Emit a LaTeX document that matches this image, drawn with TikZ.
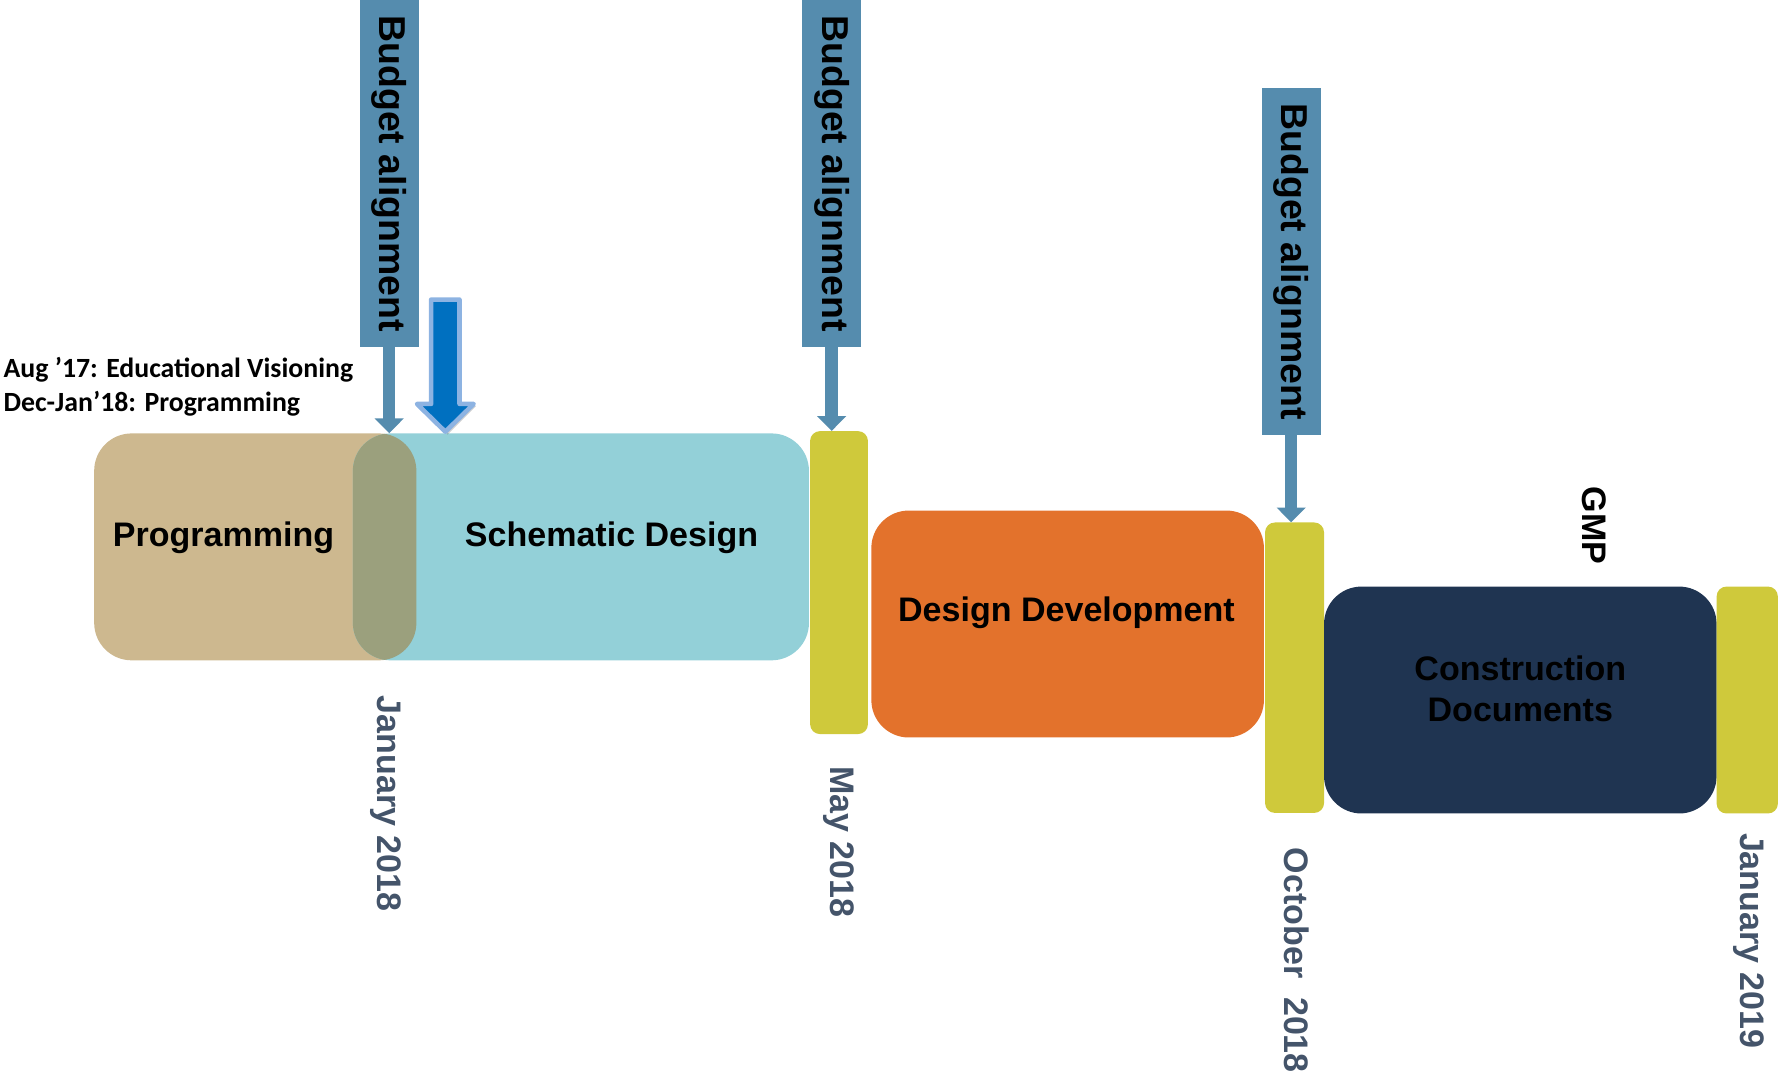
\documentclass[tikz,border=0pt]{standalone}
\usepackage{fontspec}
\setmainfont{Liberation Sans}
\newfontfamily\calfont{Carlito}
\usetikzlibrary{arrows.meta}
\definecolor{tanc}{HTML}{CDB88F}
\definecolor{tealc}{HTML}{93D0D8}
\definecolor{overc}{HTML}{9BA07D}
\definecolor{yelc}{HTML}{CFC93B}
\definecolor{orangec}{HTML}{E3722C}
\definecolor{navyc}{HTML}{1F3451}
\definecolor{budc}{HTML}{558CAE}
\definecolor{bluec}{HTML}{0070C0}
\definecolor{blueedge}{HTML}{8DB3E2}
\definecolor{datec}{HTML}{44546A}
\begin{document}
\begin{tikzpicture}[x=1pt,y=-1pt,
  phase/.style={rounded corners=33pt, inner sep=0pt, minimum height=200pt},
  barbox/.style={fill=yelc, rounded corners=8.7pt, inner sep=0pt},
  budget/.style={fill=budc, inner sep=0pt, minimum width=52pt, minimum height=306pt},
  btext/.style={rotate=-90, font=\bfseries\fontsize{33}{39}\selectfont},
  ptext/.style={font=\bfseries\fontsize{30}{36.5}\selectfont, inner sep=0pt},
  datetext/.style={rotate=-90, anchor=west, inner sep=0pt, text=datec, font=\bfseries\fontsize{30}{36}\selectfont},
  barrow/.style={draw=budc, line width=11pt, -{Triangle[width=25pt,length=13pt]}},
  note/.style={anchor=base west, inner sep=0pt, font=\calfont\bfseries\fontsize{24.5}{30}\selectfont}
]
\useasboundingbox (0,0) rectangle (1568,948);

% phases
\node[phase, fill=tanc, minimum width=284pt] (prog) at (225,482) {};
\node[phase, fill=tealc, minimum width=402pt] (sd) at (512,482) {};
\begin{scope}
  \clip[rounded corners=33pt] (83,382) rectangle (367,582);
  \fill[overc, rounded corners=33pt] (311,382) rectangle (713,582);
\end{scope}
\node[barbox, minimum width=51pt, minimum height=267pt] (bar1) at (739.5,513.5) {};
\node[phase, fill=orangec, minimum width=346pt] (dd) at (941,550) {};
\node[barbox, minimum width=52pt, minimum height=256pt] (bar2) at (1141,588.5) {};
\node[phase, fill=navyc, minimum width=346pt] (cd) at (1340,617) {};
\node[barbox, minimum width=54pt, minimum height=200pt] (bar3) at (1540,617) {};

% phase labels
\node[ptext] (progt) at (197,474) {Programming};
\node[ptext] (sdt) at (539,474) {Schematic Design};
\node[ptext] (ddt) at (940,540) {Design Development};
\node[ptext, align=center] (cdt) at (1340,607) {Construction\\Documents};
\node[ptext, rotate=-90] (gmp) at (1405,463) {GMP};

% budget alignment boxes
\node[budget] (b1) at (343,153) {};
\node[budget] (b2) at (733,153) {};
\node[budget] (b3) at (1138,230.5) {};
\node[btext] at (b1) {Budget alignment};
\node[btext] at (b2) {Budget alignment};
\node[btext] at (b3) {Budget alignment};
\draw[barrow] (b1.south) -- (b1.south |- sd.north);
\draw[barrow] (b2.south) -- (b2.south |- bar1.north);
\draw[barrow] (b3.south) -- (b3.south |- bar2.north);

% big blue marker arrow
\fill[black, opacity=0.18, line join=round]
  (382,266) -- (407,266) -- (407,358) -- (419.5,358) -- (394.5,383) -- (369.5,358) -- (382,358) -- cycle;
\filldraw[fill=bluec, draw=blueedge, line width=4pt, line join=round]
  (380,264) -- (405,264) -- (405,356) -- (417.5,356) -- (392.5,380.5) -- (367.5,356) -- (380,356) -- cycle;

% notes
\node[note] (n1) at (3,333) {Aug ’17: Educational Visioning};
\node[note] (n2) at (3,363) {Dec-Jan’18: Programming};

% dates
\node[datetext] (d1) at (340,613) {January 2018};
\node[datetext] (d2) at (739,675) {May 2018};
\node[datetext] (d3) at (1143,747) {October\ \ 2018};
\node[datetext] (d4) at (1541,734) {January 2019};
\end{tikzpicture}
\end{document}
